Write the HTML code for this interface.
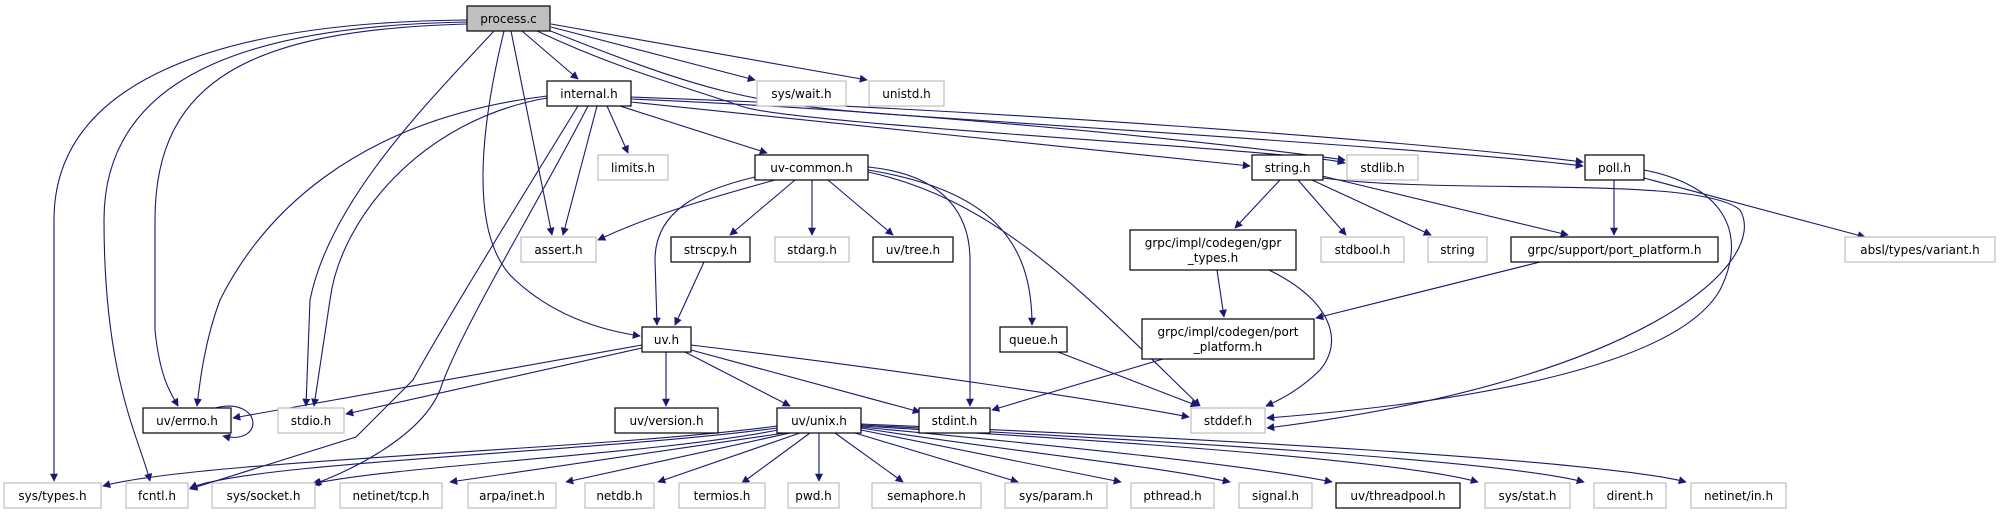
<!DOCTYPE html>
<html><head><meta charset="utf-8"><style>
html,body{margin:0;padding:0;background:#fff;}
svg{display:block;}
text{font-family:"DejaVu Sans","Liberation Sans",sans-serif;font-size:12px;text-anchor:middle;fill:#000;}
.b{fill:#fff;stroke:#000;stroke-width:1.2;}
.g{fill:#fff;stroke:#bfbfbf;stroke-width:1.2;}
path.e{fill:none;stroke:#191970;stroke-width:1.1;}
</style></head><body>
<svg width="2001" height="515" viewBox="0 0 2001 515" xmlns="http://www.w3.org/2000/svg">
<defs><marker id="a" viewBox="0 0 10 10" refX="9" refY="5" markerWidth="10" markerHeight="8" markerUnits="userSpaceOnUse" orient="auto"><path d="M0,0 L10,5 L0,10 z" fill="#191970"/></marker></defs>
<g marker-end="url(#a)">
<!-- process.c -->
<path class="e" d="M467,20 C220,22 54,80 54,220 L54,481"/>
<path class="e" d="M467,22 C240,26 104,80 104,220 C104,380 140,440 150,481"/>
<path class="e" d="M467,24 C250,30 155,80 155,220 L155,330 C160,380 172,395 178,406"/>
<path class="e" d="M494,31 C430,100 330,200 310,300 L306,406"/>
<path class="e" d="M504,31 C480,130 470,230 510,275 C550,315 600,330 640,336"/>
<path class="e" d="M511,31 L552,235"/>
<path class="e" d="M522,31 L578,79"/>
<path class="e" d="M551,27 L755,80"/>
<path class="e" d="M551,24 L867,80"/>
<path class="e" d="M537,31 C620,70 680,85 744,107 C800,125 1300,150 1345,163"/>
<path class="e" d="M548,30 C700,90 750,105 900,115 C1200,135 1500,155 1583,166"/>
<!-- internal.h -->
<path class="e" d="M547,96 C350,120 260,220 220,300 C205,340 200,380 197,406"/>
<path class="e" d="M547,98 C420,120 340,220 330,300 L314,406"/>
<path class="e" d="M578,106 C520,200 440,330 413,380 L356,437 L190,489"/>
<path class="e" d="M588,106 C540,200 460,330 440,390 C420,440 340,475 314,484"/>
<path class="e" d="M597,106 L563,235"/>
<path class="e" d="M607,106 L628,153"/>
<path class="e" d="M620,106 L767,153"/>
<path class="e" d="M631,102 C800,120 1100,150 1250,166"/>
<path class="e" d="M631,99 C900,110 1200,140 1345,160"/>
<path class="e" d="M631,97 C1000,110 1400,140 1583,162"/>
<!-- uv-common.h -->
<path class="e" d="M775,180 C720,195 650,215 598,240"/>
<path class="e" d="M755,177 C700,190 655,210 655,260 L657,325"/>
<path class="e" d="M795,180 L730,235"/>
<path class="e" d="M812,180 L812,235"/>
<path class="e" d="M828,180 L893,235"/>
<path class="e" d="M868,167 C950,175 970,220 970,260 L970,406"/>
<path class="e" d="M868,170 C990,190 1032,240 1032,325"/>
<path class="e" d="M868,172 C1000,200 1090,300 1200,406"/>
<path class="e" d="M704,262 L675,325"/>
<!-- string.h -->
<path class="e" d="M1280,180 L1235,228"/>
<path class="e" d="M1298,180 L1346,235"/>
<path class="e" d="M1312,180 L1431,235"/>
<path class="e" d="M1322,176 L1568,235"/>
<path class="e" d="M1323,178 C1450,195 1700,175 1740,210 C1770,260 1650,380 1267,428"/>
<!-- poll.h -->
<path class="e" d="M1614,180 L1614,235"/>
<path class="e" d="M1644,170 C1720,185 1750,230 1720,290 C1680,360 1500,400 1267,418"/>
<path class="e" d="M1644,178 L1865,237"/>
<!-- grpc -->
<path class="e" d="M1217,270 L1224,317"/>
<path class="e" d="M1269,270 C1330,300 1345,340 1320,370 C1300,390 1280,400 1266,406"/>
<path class="e" d="M1540,262 L1316,318"/>
<path class="e" d="M1163,359 L992,410"/>
<path class="e" d="M1058,352 L1198,406"/>
<!-- uv.h -->
<path class="e" d="M642,345 L233,418"/>
<path class="e" d="M642,348 L346,414"/>
<path class="e" d="M666,352 L666,406"/>
<path class="e" d="M685,352 L790,406"/>
<path class="e" d="M691,350 L920,412"/>
<path class="e" d="M691,345 C900,370 1100,400 1189,417"/>
<path class="e" d="M215,408 C262,396 266,446 223,436"/>
<!-- uv/unix.h -->
<path class="e" d="M777,426 C600,450 200,460 103,486"/>
<path class="e" d="M777,428 C600,452 250,462 190,488"/>
<path class="e" d="M778,430 C650,455 400,465 312,484"/>
<path class="e" d="M785,433 L450,482"/>
<path class="e" d="M790,433 L566,482"/>
<path class="e" d="M800,433 L658,482"/>
<path class="e" d="M810,433 L742,483"/>
<path class="e" d="M819,433 L819,481"/>
<path class="e" d="M835,433 L903,482"/>
<path class="e" d="M855,433 L1018,482"/>
<path class="e" d="M861,430 L1121,482"/>
<path class="e" d="M861,428 C1000,450 1150,465 1230,482"/>
<path class="e" d="M861,427 C1050,445 1250,465 1332,482"/>
<path class="e" d="M861,426 C1100,440 1400,460 1478,482"/>
<path class="e" d="M861,425 C1150,440 1500,460 1584,482"/>
<path class="e" d="M861,424 C1200,438 1600,460 1686,482"/>
</g>
<!-- nodes -->
<rect x="467" y="6" width="83" height="25" fill="#bfbfbf" stroke="#000" stroke-width="1.2"/><text x="508.5" y="23">process.c</text>
<rect class="b" x="547" y="81" width="84" height="25"/><text x="589" y="98">internal.h</text>
<rect class="g" x="757" y="81" width="89" height="25"/><text x="801.5" y="98">sys/wait.h</text>
<rect class="g" x="869" y="81" width="75" height="25"/><text x="906.5" y="98">unistd.h</text>
<rect class="g" x="598" y="155" width="70" height="25"/><text x="633" y="172">limits.h</text>
<rect class="b" x="755" y="155" width="113" height="25"/><text x="811.5" y="172">uv-common.h</text>
<rect class="b" x="1252" y="155" width="71" height="25"/><text x="1287.5" y="172">string.h</text>
<rect class="g" x="1347" y="155" width="71" height="25"/><text x="1382.5" y="172">stdlib.h</text>
<rect class="b" x="1585" y="155" width="59" height="25"/><text x="1614.5" y="172">poll.h</text>
<rect class="g" x="521" y="237" width="75" height="25"/><text x="558.5" y="254">assert.h</text>
<rect class="b" x="671" y="237" width="79" height="25"/><text x="710.5" y="254">strscpy.h</text>
<rect class="g" x="775" y="237" width="74" height="25"/><text x="812" y="254">stdarg.h</text>
<rect class="b" x="873" y="237" width="80" height="25"/><text x="913" y="254">uv/tree.h</text>
<rect class="b" x="1130" y="230" width="166" height="40"/><text x="1213" y="247">grpc/impl/codegen/gpr</text><text x="1213" y="262">_types.h</text>
<rect class="g" x="1321" y="237" width="83" height="25"/><text x="1362.5" y="254">stdbool.h</text>
<rect class="g" x="1428" y="237" width="59" height="25"/><text x="1457.5" y="254">string</text>
<rect class="b" x="1511" y="237" width="207" height="25"/><text x="1614.5" y="254">grpc/support/port_platform.h</text>
<rect class="g" x="1845" y="237" width="150" height="25"/><text x="1920" y="254">absl/types/variant.h</text>
<rect class="b" x="642" y="327" width="49" height="25"/><text x="666.5" y="344">uv.h</text>
<rect class="b" x="1000" y="327" width="67" height="25"/><text x="1033.5" y="344">queue.h</text>
<rect class="b" x="1142" y="319" width="172" height="40"/><text x="1228" y="336">grpc/impl/codegen/port</text><text x="1228" y="351">_platform.h</text>
<rect class="b" x="143" y="408" width="88" height="25"/><text x="187" y="425">uv/errno.h</text>
<rect class="g" x="278" y="408" width="66" height="25"/><text x="311" y="425">stdio.h</text>
<rect class="b" x="615" y="408" width="103" height="25"/><text x="666.5" y="425">uv/version.h</text>
<rect class="b" x="777" y="408" width="84" height="25"/><text x="819" y="425">uv/unix.h</text>
<rect class="b" x="919" y="408" width="71" height="25"/><text x="954.5" y="425">stdint.h</text>
<rect class="g" x="1191" y="408" width="74" height="25"/><text x="1228" y="425">stddef.h</text>
<rect class="g" x="4" y="483" width="97" height="25"/><text x="52.5" y="500">sys/types.h</text>
<rect class="g" x="126" y="483" width="62" height="25"/><text x="157" y="500">fcntl.h</text>
<rect class="g" x="212" y="483" width="103" height="25"/><text x="263.5" y="500">sys/socket.h</text>
<rect class="g" x="340" y="483" width="102" height="25"/><text x="391" y="500">netinet/tcp.h</text>
<rect class="g" x="468" y="483" width="88" height="25"/><text x="512" y="500">arpa/inet.h</text>
<rect class="g" x="585" y="483" width="69" height="25"/><text x="619.5" y="500">netdb.h</text>
<rect class="g" x="679" y="483" width="86" height="25"/><text x="722" y="500">termios.h</text>
<rect class="g" x="788" y="483" width="51" height="25"/><text x="813.5" y="500">pwd.h</text>
<rect class="g" x="872" y="483" width="109" height="25"/><text x="926.5" y="500">semaphore.h</text>
<rect class="g" x="1005" y="483" width="102" height="25"/><text x="1056" y="500">sys/param.h</text>
<rect class="g" x="1131" y="483" width="83" height="25"/><text x="1172.5" y="500">pthread.h</text>
<rect class="g" x="1239" y="483" width="73" height="25"/><text x="1275.5" y="500">signal.h</text>
<rect class="b" x="1336" y="483" width="124" height="25"/><text x="1398" y="500">uv/threadpool.h</text>
<rect class="g" x="1485" y="483" width="85" height="25"/><text x="1527.5" y="500">sys/stat.h</text>
<rect class="g" x="1594" y="483" width="72" height="25"/><text x="1630" y="500">dirent.h</text>
<rect class="g" x="1691" y="483" width="95" height="25"/><text x="1738.5" y="500">netinet/in.h</text>
</svg>
</body></html>
